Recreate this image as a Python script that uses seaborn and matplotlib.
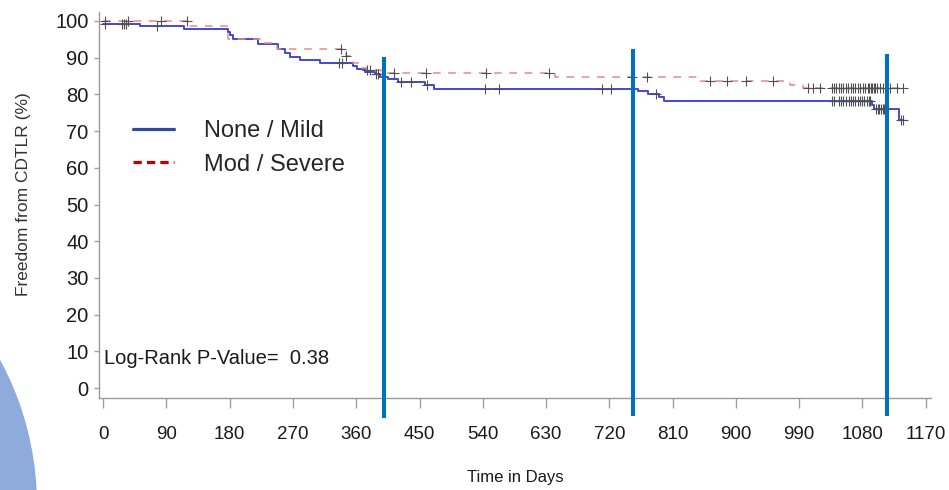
import numpy as np
import pandas as pd
import matplotlib
matplotlib.use("Agg")
import matplotlib.pyplot as plt
from matplotlib.lines import Line2D
from matplotlib.patches import Ellipse
import seaborn as sns

# --- Kaplan-Meier step data (days, % freedom from CDTLR) ---
mild_times = [0, 52, 115, 178, 181, 185, 220, 249, 258, 266, 280, 308, 356, 361,
              372, 386, 394, 405, 420, 458, 470, 761, 775, 790, 797, 1093, 1097,
              1132, 1138]
mild_surv = [99.1, 98.6, 97.8, 97.0, 96.2, 95.1, 93.7, 92.4, 91.2, 90.3, 89.4,
             88.5, 87.6, 86.9, 86.2, 85.5, 84.8, 84.1, 83.3, 82.6, 81.5, 80.8,
             80.0, 79.2, 78.2, 77.2, 76.0, 73.0, 73.0]

severe_times = [0, 122, 178, 225, 247, 339, 345, 356, 365, 375, 395, 643, 849,
                977, 996, 1140]
severe_surv = [100.0, 98.5, 95.2, 94.1, 92.4, 91.6, 90.5, 88.6, 87.2, 86.5,
               85.8, 84.7, 83.7, 82.6, 81.7, 81.7]

# censored observations (days)
mild_censor = [2, 27, 30, 33, 76, 336, 340, 388, 391, 424, 438, 460, 543, 563,
               710, 722, 786, 1036, 1039, 1046, 1049, 1053, 1056, 1061, 1063,
               1067, 1070, 1073, 1077, 1080, 1082, 1087, 1089, 1091, 1099, 1102,
               1104, 1106, 1109, 1111, 1113, 1135, 1137]
severe_censor = [2, 35, 82, 119, 338, 346, 375, 379, 413, 459, 545, 634, 752,
                 773, 863, 887, 915, 953, 1003, 1010, 1020, 1036, 1039, 1043,
                 1046, 1050, 1053, 1057, 1060, 1063, 1067, 1070, 1074, 1077,
                 1081, 1084, 1088, 1090, 1092, 1094, 1096, 1098, 1101, 1105,
                 1109, 1114, 1119, 1129, 1138]

group_labels = ["None / Mild", "Mod / Severe"]
x_ticks = list(range(0, 1171, 90))
y_ticks = list(range(0, 101, 10))
p_value_text = "Log-Rank P-Value=  0.38"

# yearly reference markers (day, lower end, upper end)
ref_days = [399, 753.5, 1115]
ref_low = [-8.1, -7.5, -7.5]
ref_high = [90.3, 92.3, 90.9]


def step_value(times, surv, t):
    idx = np.searchsorted(times, t, side="right") - 1
    return np.asarray(surv)[idx]


curves = pd.concat([
    pd.DataFrame({"day": mild_times, "surv": mild_surv, "group": group_labels[0]}),
    pd.DataFrame({"day": severe_times, "surv": severe_surv, "group": group_labels[1]}),
])
censors = pd.concat([
    pd.DataFrame({"day": mild_censor,
                  "surv": step_value(mild_times, mild_surv, mild_censor)}),
    pd.DataFrame({"day": severe_censor,
                  "surv": step_value(severe_times, severe_surv, severe_censor)}),
])

sns.set_style("white")
plt.rcParams["font.family"] = ["Liberation Sans", "DejaVu Sans"]

fig = plt.figure(figsize=(9.49, 4.90), dpi=100)
ax = fig.add_axes([99 / 949, 1 - 397.7 / 490, 832 / 949, 386 / 490])

# decorative slide circle in the lower-left corner
fig.patches.append(Ellipse((-267 / 949, -15 / 490), 608 / 949, 608 / 490,
                           transform=fig.transFigure, facecolor="#8FAADC",
                           edgecolor="none", zorder=0))

sns.lineplot(data=curves[curves.group == group_labels[0]], x="day", y="surv",
             ax=ax, color="#4646D2", lw=1.4, drawstyle="steps-post",
             estimator=None, sort=False, legend=False)
sns.lineplot(data=curves[curves.group == group_labels[1]], x="day", y="surv",
             ax=ax, color="#E58A8A", lw=1.1, drawstyle="steps-post",
             estimator=None, sort=False, legend=False, dashes=False)
ax.lines[-1].set_dashes((5, 5))

sns.scatterplot(data=censors, x="day", y="surv", ax=ax, marker="+", s=48,
                color="#505050", linewidth=0.8, legend=False, zorder=4)

ax.vlines(ref_days, ref_low, ref_high, colors="#0070C0", lw=2.9,
          clip_on=False, zorder=5)

ax.set_xlim(-6, 1177.5)
ax.set_ylim(-2.6, 102.5)
ax.set_xticks(x_ticks)
ax.set_yticks(y_ticks)

for side in ("top", "right"):
    ax.spines[side].set_visible(False)
for side in ("left", "bottom"):
    ax.spines[side].set_color("#9a9a9a")
    ax.spines[side].set_linewidth(1.0)

ax.tick_params(axis="x", length=7.5, width=1, color="#a0a0a0", pad=13,
               labelsize=13.5, labelcolor="#1a1a1a", direction="out", bottom=True)
ax.tick_params(axis="y", length=3.5, width=1, color="#a0a0a0", pad=4,
               labelsize=14.5, labelcolor="#1a1a1a", direction="out", left=True)

ax.set_xlabel("Time in Days", fontsize=12, color="#1a1a1a", va="center")
ax.xaxis.set_label_coords(0.5, -0.208)
ax.set_ylabel("Freedom from CDTLR (%)", fontsize=12.5, color="#333333",
              va="center", ha="center")
ax.yaxis.set_label_coords(-0.0905, 0.528)

ax.text(1, 8, p_value_text, fontsize=14.5, color="#1a1a1a",
        ha="left", va="center")

handles = [
    Line2D([], [], color="#2F4B9E", lw=2.3),
    Line2D([], [], color="#C00000", lw=2.3, dashes=(2.6, 1.6)),
]
ax.legend(handles, group_labels, loc="upper left",
          bbox_to_anchor=(0.0409, 0.72), frameon=False, fontsize=17,
          handlelength=1.75, handletextpad=1.25, labelspacing=0.5,
          borderpad=0, borderaxespad=0)

fig.savefig("out.png", dpi=100)
